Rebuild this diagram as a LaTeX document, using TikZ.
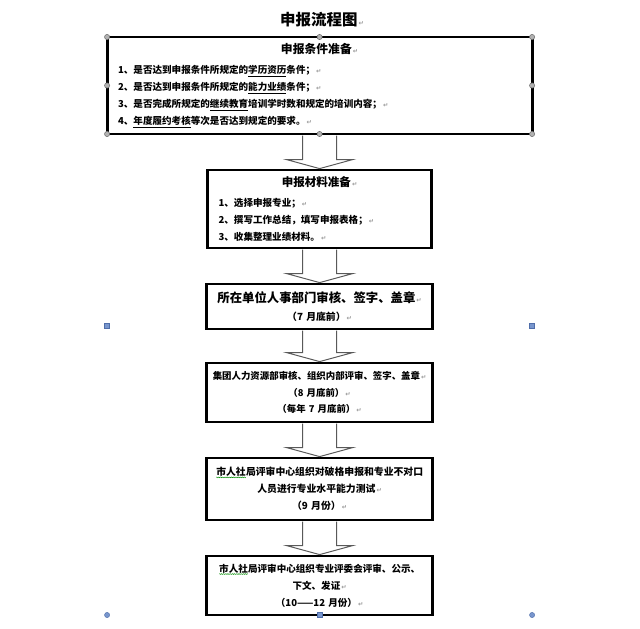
\documentclass[tikz,border=0pt]{standalone}
\usepackage{fontspec}
\setmainfont{Noto Sans CJK SC}
\newfontfamily\symfont{DejaVu Sans}
\usetikzlibrary{positioning,calc,decorations.pathmorphing}
\definecolor{gripblue}{RGB}{120,150,205}
\definecolor{gripedge}{RGB}{80,110,170}

% paragraph mark and spell-check squiggle
\newcommand\pmk{{\symfont\color{black!40}\fontsize{4.5}{5}\selectfont\,↵}}
\newcommand\wavy[1]{\tikz[baseline=(w.base)]{\node[inner sep=0pt, text width=, minimum height=0pt, minimum width=0pt, anchor=base] (w) at (0,0) {#1};
  \draw[green!55!black, line width=0.3pt, decorate, decoration={snake, amplitude=0.3pt, segment length=1.3pt}] ([yshift=-0.6pt]w.south west) -- ([yshift=-0.6pt]w.south east);}}

\begin{document}
\begin{tikzpicture}[
    node distance=9mm,
    box/.style={draw, line width=2pt, outer sep=0pt, align=center, text width=55mm, inner xsep=0.75mm, inner ysep=0pt, font=\bfseries\fontsize{7}{12.5}\selectfont},
    arr/.style={draw=black!65, line width=0.7pt, line join=miter},
    grip/.style={circle, draw=black!55, fill=black!30, line width=0.4pt, inner sep=0pt, minimum size=1.3mm},
    bluegrip/.style={circle, draw=gripedge, fill=gripblue, line width=0.3pt, inner sep=0pt, minimum size=1.3mm},
    bluesq/.style={rectangle, draw=gripedge, fill=gripblue, line width=0.3pt, inner sep=0pt, minimum size=1.3mm}
]
\useasboundingbox (0,0) rectangle (160mm,157mm);
\node[font=\bfseries\fontsize{11}{13}\selectfont] (title) at (80.5mm,152mm) {申报流程图\pmk};
\node[box, anchor=north, text width=100.75mm, inner xsep=2.75mm, align=left, minimum height=24.25mm, font=\bfseries\fontsize{6.8}{12}\selectfont] (cond) at (79.9mm,147.75mm)
    {\hfill{\fontsize{8.4}{12}\selectfont 申报条件准备\pmk}\hfill\null\\[0.8mm]
     1、是否达到申报条件所规定的\underline{学历资历}条件；\pmk\\
     2、是否达到申报条件所规定的\underline{能力业绩}条件；\pmk\\
     3、是否完成所规定的\underline{继续教育}培训学时数和规定的培训内容；\pmk\\
     4、\underline{年度履约考核}等次是否达到规定的要求。\pmk};
\node[box, below=of cond, text width=50.5mm, inner xsep=2.75mm, align=left, minimum height=19.5mm, font=\bfseries\fontsize{6.8}{12.2}\selectfont] (mat)
    {\hfill{\fontsize{8.2}{12.2}\selectfont 申报材料准备\pmk}\hfill\null\\[0.6mm]
     1、选择申报专业；\pmk\\
     2、撰写工作总结，填写申报表格；\pmk\\
     3、收集整理业绩材料。\pmk};
\node[box, below=of mat, minimum height=11.25mm] (unit)
    {{\fontsize{8.8}{12.8}\selectfont 所在单位人事部门审核、签字、盖章\pmk}\\
     （7 月底前）\pmk};
\node[box, below=8.5mm of unit, minimum height=14.75mm, font=\bfseries\fontsize{6.7}{11.8}\selectfont] (group)
    {集团人力资源部审核、组织内部评审、签字、盖章\pmk\\
     （8 月底前）\pmk\\
     （每年 7 月底前）\pmk};
\node[box, below=of group, minimum height=15.5mm, font=\bfseries\fontsize{7}{12.2}\selectfont] (test)
    {\wavy{市人社}局评审中心组织对破格申报和专业不对口\\
     人员进行专业水平能力测试\pmk\\
     （9 月份）\pmk};
\node[box, below=of test, minimum height=14.75mm, font=\bfseries\fontsize{6.8}{12}\selectfont] (review)
    {\wavy{市人社}局评审中心组织专业评委会评审、公示、\\
     下文、发证\pmk\\
     （10——12 月份）\pmk};
\foreach \a/\b in {cond/mat, mat/unit, unit/group, group/test, test/review}
    \draw[arr] ($(\a.south)+(-4.25mm,-0.4mm)$) -- ($(\b.north)+(-4.25mm,2.6mm)$) -- ($(\b.north)+(-8.25mm,2.6mm)$)
        -- ($(\b.north)+(0,0.35mm)$) -- ($(\b.north)+(8.25mm,2.6mm)$) -- ($(\b.north)+(4.25mm,2.6mm)$) -- ($(\a.south)+(4.25mm,-0.4mm)$);
% selection handles
\foreach \p/\n in {north west/nw, north/n, north east/ne, west/w, east/e, south west/sw, south/s, south east/se}
    \node[grip] (g\n) at (cond.\p) {};
\node[bluegrip] (bsw) at (cond.west |- review.south) {};
\node[bluegrip] (bse) at (cond.east |- review.south) {};
\node[bluesq] (bs) at (review.south) {};
\node[bluesq] (bw) at ($(cond.north west)!0.5!(bsw)$) {};
\node[bluesq] (be) at ($(cond.north east)!0.5!(bse)$) {};
\end{tikzpicture}
\end{document}
